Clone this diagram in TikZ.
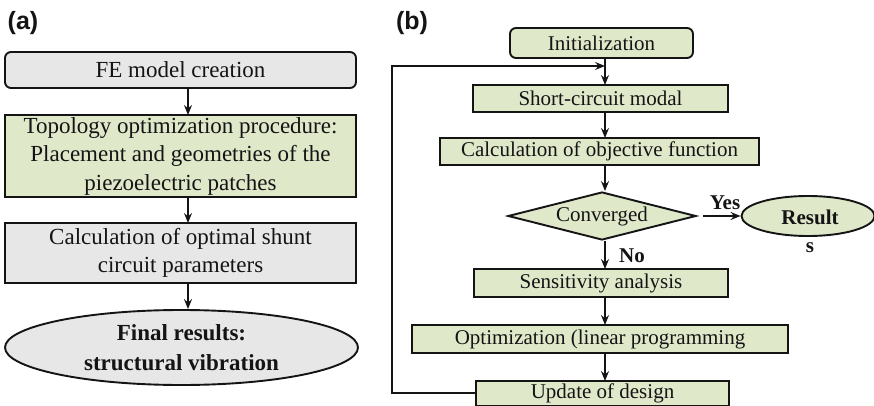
\documentclass[tikz,border=0pt]{standalone}
\usepackage{fontspec}
\setmainfont{Liberation Serif}
\newfontfamily\labfont{Liberation Sans}
\usetikzlibrary{shapes.geometric,arrows.meta}
\definecolor{gfill}{RGB}{224,232,202}
\definecolor{yfill}{RGB}{231,231,231}
\definecolor{ink}{RGB}{20,20,20}
\begin{document}
\begin{tikzpicture}[x=1pt,y=-1pt,
  box/.style={draw=ink, line width=1.9pt, inner sep=0pt, outer sep=0pt, align=center, text=ink},
  gbox/.style={box, fill=gfill},
  ybox/.style={box, fill=yfill},
  lt/.style={font=\fontsize{23}{28.5}\selectfont},
  rt/.style={font=\fontsize{21}{25}\selectfont},
  rtb/.style={font=\fontsize{21}{28}\selectfont\bfseries, text=ink},
  panel/.style={font=\labfont\bfseries\fontsize{25}{28}\selectfont, text=ink},
  arr/.style={draw=ink, line width=1.9pt, -{Stealth[length=10pt,width=8pt,inset=3.5pt]}},
]
\useasboundingbox (0,0) rectangle (874,406);

% ---------- panel (a) ----------
\node[panel] (la) at (23,23) {(a)};
\node[ybox, lt, rounded corners=6pt, minimum width=351pt, minimum height=36pt] (fe) at (180.5,70) {FE model creation};
\node[gbox, lt, minimum width=351pt, minimum height=82pt] (topo) at (180.5,156) {Topology optimization procedure:\\Placement and geometries of the\\piezoelectric patches};
\node[ybox, lt, minimum width=351pt, minimum height=60pt] (calc) at (180.5,253) {Calculation of optimal shunt\\circuit parameters};
\node[ellipse, draw=ink, line width=1.9pt, fill=yfill, minimum width=353pt, minimum height=75pt, inner sep=0pt, align=center, text=ink, font=\fontsize{23}{30}\selectfont\bfseries] (fin) at (181.5,347.5) {Final results:\\structural vibration};

\coordinate (lx) at (188,0);
\draw[arr] (fe.south -| lx) -- (topo.north -| lx);
\draw[arr] (topo.south -| lx) -- (calc.north -| lx);
\draw[arr] (calc.south -| lx) -- (fin.north -| lx);

% ---------- panel (b) ----------
\node[panel] (lb) at (412,23) {(b)};
\node[gbox, rt, rounded corners=6pt, minimum width=183pt, minimum height=30pt] (init) at (601.5,43) {Initialization};
\node[gbox, rt, minimum width=255pt, minimum height=27pt] (short) at (600.5,98.5) {Short-circuit modal};
\node[gbox, rt, minimum width=319pt, minimum height=27pt] (obj) at (599.5,151.5) {Calculation of objective function};
\node[diamond, draw=ink, line width=1.9pt, fill=gfill, rt, text=ink, aspect=3.9, inner sep=0pt, minimum width=188pt, minimum height=48pt] (conv) at (602,216) {\raisebox{-2pt}{Converged}};
\node[ellipse, draw=ink, line width=1.9pt, fill=gfill, minimum width=133pt, minimum height=40pt, inner sep=0pt] (res) at (808,216) {};
\node[rtb, align=center] (rest) at (810,231) {Result\\s};
\node[gbox, rt, minimum width=254pt, minimum height=28pt] (sens) at (601,283) {Sensitivity analysis};
\node[gbox, rt, minimum width=376pt, minimum height=28pt] (opt) at (600,339) {Optimization (linear programming};
\node[gbox, rt, minimum width=253pt, minimum height=24.5pt] (upd) at (602.5,393.25) {Update of design};

\node[rtb] (yes) at (725,203) {Yes};
\node[rtb] (no) at (632,256) {No};

\coordinate (rx) at (605,0);
\coordinate (ys) at (703,216);
\coordinate (fb) at (392,0);
\coordinate (jn) at (605,66);
\draw[arr] (init.south -| rx) -- (short.north -| rx);
\draw[arr] (short.south -| rx) -- (obj.north -| rx);
\draw[arr] (obj.south -| rx) -- (conv.north -| rx);
\draw[arr] (conv.south -| rx) -- (sens.north -| rx);
\draw[arr] (sens.south -| rx) -- (opt.north -| rx);
\draw[arr] (opt.south -| rx) -- (upd.north -| rx);
\draw[arr] (ys) -- (res.west);
\draw[arr] (upd.west) -- (upd.west -| fb) -- (fb |- jn) -- (jn);
\end{tikzpicture}
\end{document}
